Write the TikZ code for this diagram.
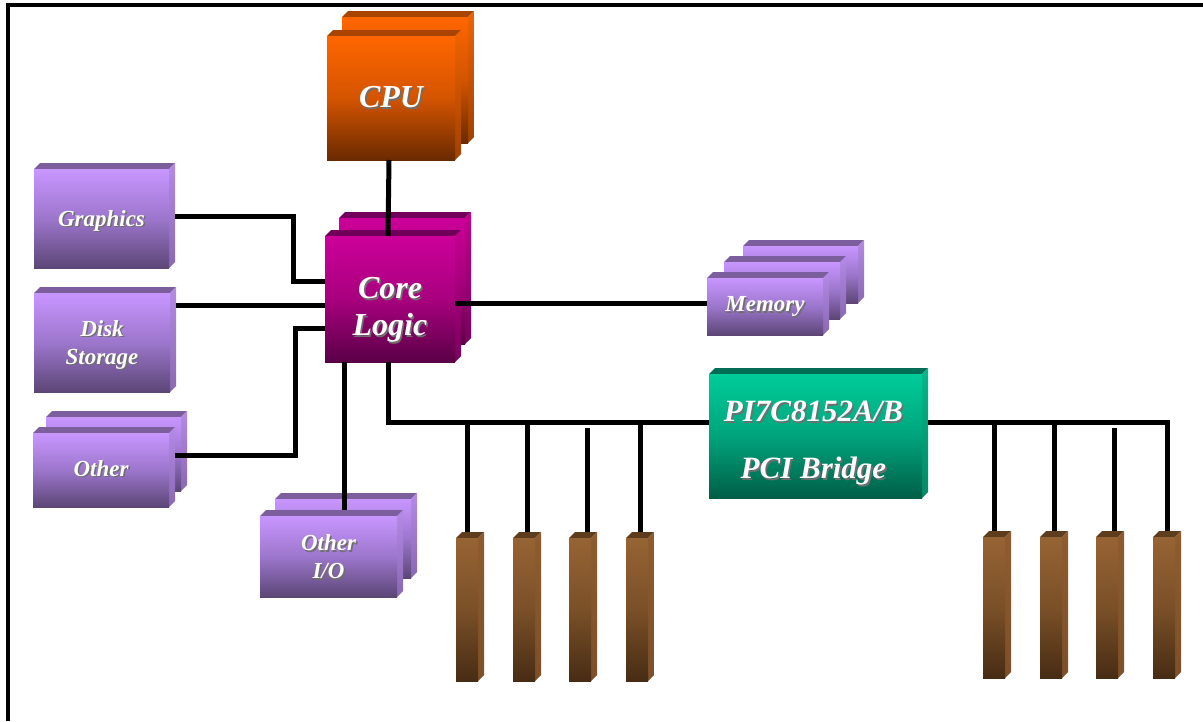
\documentclass[tikz,border=0pt]{standalone}
\usepackage{fontspec}
\setmainfont{Liberation Serif}
\usetikzlibrary{fit,calc}
\definecolor{cpuL}{HTML}{FF6600}\definecolor{cpuM}{HTML}{D45400}\definecolor{cpuD}{HTML}{6A2A00}
\definecolor{cpuT}{HTML}{A84400}\definecolor{cpuS}{HTML}{F06400}\definecolor{cpuSD}{HTML}{A04000}
\definecolor{corL}{HTML}{CC0099}\definecolor{corM}{HTML}{A8007E}\definecolor{corD}{HTML}{5A0046}
\definecolor{corT}{HTML}{70005A}\definecolor{corS}{HTML}{C20090}\definecolor{corSD}{HTML}{7A005C}
\definecolor{purL}{HTML}{C896FF}\definecolor{purM}{HTML}{9C76CC}\definecolor{purD}{HTML}{5C4676}
\definecolor{purT}{HTML}{7C5E9C}\definecolor{purS}{HTML}{B48AE6}\definecolor{purSD}{HTML}{8A68B4}
\definecolor{pciL}{HTML}{00CC99}\definecolor{pciM}{HTML}{00A47C}\definecolor{pciD}{HTML}{005E46}
\definecolor{pciT}{HTML}{006E55}\definecolor{pciS}{HTML}{00B88A}\definecolor{pciSD}{HTML}{008A66}
\definecolor{sltL}{HTML}{966434}\definecolor{sltM}{HTML}{7A5028}\definecolor{sltD}{HTML}{472C14}
\definecolor{sltT}{HTML}{5E3D1E}\definecolor{sltS}{HTML}{8E5C2E}\definecolor{sltSD}{HTML}{7E5028}
\definecolor{txtsh}{HTML}{6E6E6E}
\newcommand\boxthreed[6]{%
  \fill[#6T] (#2,#3) -- (#2+6,#3-6) -- (#4+6,#3-6) -- (#4,#3) -- cycle;
  \shade[top color=#6S, bottom color=#6SD] (#4,#3) -- (#4+6,#3-6) -- (#4+6,#5-6) -- (#4,#5) -- cycle;
  \shade[top color=#6L, bottom color=#6D, middle color=#6M] (#2,#3) rectangle (#4,#5);
  \coordinate (#1-a) at (#2,#3); \coordinate (#1-b) at (#4,#5);
  \node[inner sep=0pt, outer sep=0pt, fit=(#1-a)(#1-b)] (#1) {};
}
\newcommand\sht[1]{\makebox[0pt][l]{\hspace{1.5pt}\raisebox{-1.5pt}{\textcolor{txtsh}{#1}}}#1}
\begin{document}
\begin{tikzpicture}[x=1pt,y=-1pt,
  bigtxt/.style={text=white, font=\fontsize{32}{37}\selectfont\bfseries\itshape, align=center, inner sep=0pt},
  smalltxt/.style={text=white, font=\fontsize{23}{28}\selectfont\bfseries\itshape, align=center, inner sep=0pt},
  wire/.style={line width=5pt, black}]
\useasboundingbox (0,0) rectangle (1203,721);
\fill[white] (0,0) rectangle (1203,721);
\draw[line width=4pt] (8,721) -- (8,4.7) -- (1203,4.7);
% boxes
\boxthreed{cpub}{342}{17}{468}{143}{cpu}
\boxthreed{cpu}{327}{36}{455}{160}{cpu}
\boxthreed{coreb}{339}{218}{465}{344}{cor}
\boxthreed{core}{325}{236}{455}{362}{cor}
\boxthreed{memc}{743}{246}{858}{303}{pur}
\boxthreed{memb}{724}{262}{840}{319}{pur}
\boxthreed{mem}{707}{278}{823}{335}{pur}
\boxthreed{pci}{709}{374}{922}{498}{pci}
\boxthreed{gfx}{34}{169}{169}{268}{pur}
\boxthreed{disk}{34}{293}{170}{392}{pur}
\boxthreed{othb}{46}{417}{181}{491}{pur}
\boxthreed{oth}{33}{433}{169}{507}{pur}
\boxthreed{oiob}{275}{499}{411}{578}{pur}
\boxthreed{oio}{260}{516}{397}{597}{pur}
\boxthreed{ls1}{456}{538}{478}{681}{slt}
\boxthreed{ls2}{513}{538}{535}{681}{slt}
\boxthreed{ls3}{569}{538}{591}{681}{slt}
\boxthreed{ls4}{626}{538}{648}{681}{slt}
\boxthreed{rs1}{983}{537}{1005}{678}{slt}
\boxthreed{rs2}{1040}{537}{1062}{678}{slt}
\boxthreed{rs3}{1096}{537}{1118}{678}{slt}
\boxthreed{rs4}{1153}{537}{1175}{678}{slt}
% texts
\node[bigtxt] (cpu-t) at ([yshift=0pt]cpu.center) {\sht{CPU}};
\node[bigtxt] (core-t) at ([yshift=-12pt]core.center) {\sht{Core}\\\sht{Logic}};
\node[bigtxt, font=\fontsize{31}{57}\selectfont\bfseries\itshape] (pci-t) at ([xshift=-2pt,yshift=-8pt]pci.center) {\sht{PI7C8152A/B}\\\sht{PCI Bridge}};
\node[smalltxt] (mem-t) at ([yshift=-1pt]mem.center) {\sht{Memory}};
\node[smalltxt] (gfx-t) at ([yshift=-3pt]gfx.center) {\sht{Graphics}};
\node[smalltxt] (disk-t) at ([yshift=-3pt]disk.center) {\sht{Disk}\\\sht{Storage}};
\node[smalltxt] (oth-t) at ([yshift=1pt]oth.center) {\sht{Other}};
\node[smalltxt] (oio-t) at ([yshift=-1pt]oio.center) {\sht{Other}\\\sht{I/O}};
% connectors
\draw[wire] ([xshift=-2pt]cpu.south) -- ([xshift=-2pt]core.north);
\draw[wire] ([xshift=6pt,yshift=2.5pt]gfx.east) -- ++(118,0) |- ([yshift=18pt]core.west);
\draw[wire] ([yshift=-6pt]core.west) -- ([xshift=6pt,yshift=-6pt]core.west -| disk.east);
\draw[wire] ([xshift=6pt,yshift=15pt]oth.east) -- ++(120,0) |- ([yshift=-29pt]core.west);
\draw[wire] ([yshift=-4pt]core.east) -- ([yshift=-4pt]core.east -| mem.west);
\draw[wire] ([xshift=-46pt]core.south) -- ([xshift=-46pt,yshift=6pt]core.south |- oio.north);
\coordinate (busL) at ([yshift=14pt]pci.west);
\draw[wire] ([xshift=-2pt]core.south) |- (busL);
\draw[wire] ([yshift=6pt]ls1.north) -- (ls1.north |- busL);
\draw[wire] ([xshift=3pt,yshift=6pt]ls2.north) -- ([xshift=3pt]ls2.north |- busL);
\draw[wire] ([xshift=7pt,yshift=6pt]ls3.north) -- ([xshift=7pt,yshift=-6pt]ls3.north |- busL);
\draw[wire] ([xshift=3pt,yshift=6pt]ls4.north) -- ([xshift=3pt]ls4.north |- busL);
\coordinate (busR) at ([xshift=6pt,yshift=14pt]pci.east);
\draw[wire] (busR) -| ([xshift=3pt,yshift=6pt]rs4.north);
\draw[wire] ([yshift=6pt]rs1.north) -- (rs1.north |- busR);
\draw[wire] ([xshift=3pt,yshift=6pt]rs2.north) -- ([xshift=3pt]rs2.north |- busR);
\draw[wire] ([xshift=7pt,yshift=6pt]rs3.north) -- ([xshift=7pt,yshift=-6pt]rs3.north |- busR);
\end{tikzpicture}
\end{document}
